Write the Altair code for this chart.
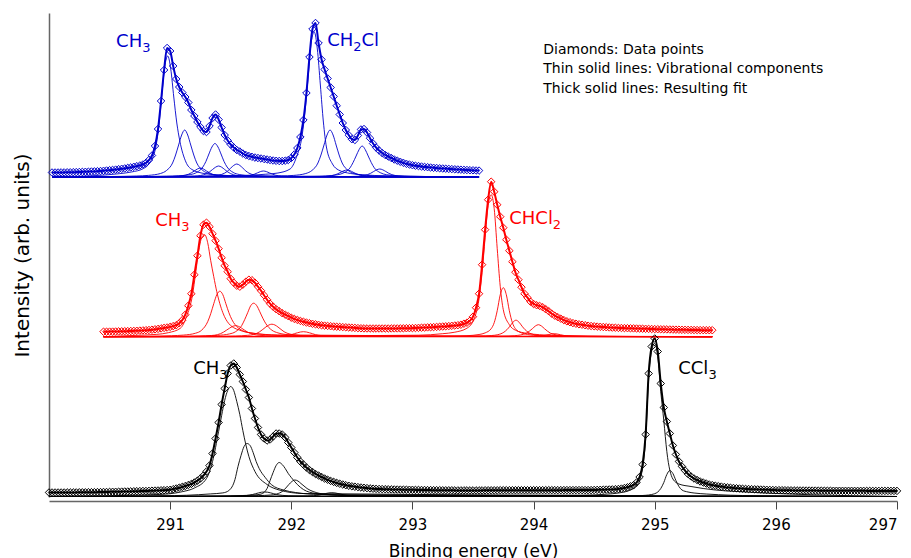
import altair as alt
import pandas as pd

STEP = 0.025  # energy step of the measured points (eV)

# ---- measured data / resulting fit: heights (arb. units) above each spectrum's baseline ----
# each entry: (first binding energy, values every STEP eV)
black_data = [
    (290.000, [4.0, 4.0, 4.0, 4.0, 4.0, 4.0, 4.1, 4.1, 4.1, 4.1, 4.2, 4.2, 4.2, 4.3, 4.3, 4.3, 4.4, 4.4, 4.5, 4.5,
               4.6, 4.7, 4.7, 4.8, 4.9, 5.0, 5.0, 5.1, 5.2, 5.3, 5.4, 5.5, 5.5, 5.6, 5.8, 5.9, 6.0, 6.2, 6.3, 6.5]),
    (291.000, [6.7, 7.3, 8.0, 8.8, 9.6, 10.5, 11.5, 12.6, 14, 15.8, 18, 21, 25, 31, 43, 58, 74, 92, 108, 123,
               131, 133, 129, 122, 115, 107, 99, 88, 78, 69, 62, 58, 56, 57, 60, 63, 63, 62, 59, 54,
               49, 44, 39, 35, 32, 29, 26.5, 24.5, 22.5, 21, 19.5, 18, 16.8, 15.6, 14.6, 13.6, 12.8, 12, 11.3, 10.7,
               10.2, 9.8, 9.4, 9.0, 8.7, 8.4, 8.1, 7.8, 7.6, 7.5]),
    (292.750, [7.4, 7.3, 7.2, 7.1, 7.0, 6.95, 6.9, 6.85, 6.8, 6.75, 6.7, 6.6, 6.6, 6.5, 6.5, 6.4, 6.4, 6.3, 6.3, 6.3,
               6.2, 6.2, 6.2, 6.2, 6.1, 6.1, 6.1, 6.1, 6.1, 6.1, 6.1, 6.1, 6.1, 6.1, 6.2, 6.2, 6.2, 6.2, 6.2, 6.3,
               6.3, 6.3, 6.3, 6.3, 6.3, 6.3, 6.3, 6.3, 6.3, 6.3, 6.35, 6.35, 6.35, 6.35, 6.35, 6.35, 6.35, 6.35, 6.35, 6.35,
               6.4, 6.4, 6.4, 6.4, 6.4, 6.4, 6.4, 6.4, 6.4, 6.4, 6.5, 6.6, 6.7, 6.8, 6.9, 7.0, 7.1, 7.3]),
    (294.700, [7.5, 7.9, 8.5, 9.2, 10.2, 11.3, 14, 19.5, 32, 62, 123, 150, 158, 145, 113, 89, 75, 63, 51, 42,
               35, 30, 26, 22.5, 20, 18, 16.5, 15, 14, 13, 12, 11.4, 10.8, 10.3, 9.9, 9.5, 9.1, 8.8, 8.5, 8.25,
               8.0, 7.8, 7.6, 7.45, 7.3, 7.2, 7.1, 6.95, 6.8, 6.7, 6.6, 6.5, 6.4, 6.35, 6.3, 6.25, 6.2, 6.15, 6.1, 6.05,
               6.0, 6.0, 5.95, 5.95, 5.9, 5.9, 5.85, 5.85, 5.8, 5.8, 5.8, 5.75, 5.75, 5.75, 5.7, 5.7, 5.7, 5.7, 5.65, 5.65,
               5.65, 5.65, 5.6, 5.6, 5.6, 5.6, 5.6, 5.6, 5.6, 5.6, 5.6, 5.6, 5.6]),
]
red_data = [
    (290.450, [5.0, 5.0, 5.1, 5.1, 5.2, 5.3, 5.4, 5.5, 5.6, 5.7, 5.8, 5.9, 6.1, 6.3, 6.5, 6.7, 7.0, 7.4, 7.8, 8.3,
               8.8, 9.2]),
    (291.000, [9.8, 10.6, 11.5, 13.5, 16.5, 22, 31, 43, 62, 81, 101, 112, 114, 110, 103, 96, 88, 79, 71, 65,
               58, 54, 51, 50, 52, 55, 57, 56.5, 54, 50, 46, 41.5, 37, 33, 30, 27.5, 25.5, 23.5, 22, 20.5,
               19, 17.8, 16.8, 15.8, 15, 14.2, 13.5, 12.9, 12.4, 11.9, 11.4, 11.1, 10.8, 10.5, 10.2, 10.0, 9.8, 9.6, 9.4, 9.2,
               9.0, 8.8, 8.6, 8.4, 8.3]),
    (292.625, [8.25, 8.2, 8.2, 8.2, 8.2, 8.2, 8.2, 8.2, 8.25, 8.3, 8.3, 8.35, 8.4, 8.5, 8.55, 8.6, 8.7, 8.85, 9.0, 9.15,
               9.3, 9.45, 9.6, 9.8, 10.0, 10.2, 10.4, 10.6, 10.9, 11.2, 11.5, 12.0, 13.0, 14.0, 16.0]),
    (293.500, [20, 29, 43, 72, 107, 137, 155, 145, 132, 120, 109, 97, 86, 75, 64.5, 57, 49.5, 43, 39, 35,
               32.7, 31.5, 30.8, 29.5, 27.5, 25.5, 23, 21, 19.5, 18, 16.6, 15.4, 14.5, 13.6, 13, 12.4, 12, 11.5, 11, 10.7,
               10.4, 10.1, 9.9, 9.7, 9.5, 9.3, 9.1, 9.0, 8.8, 8.7, 8.6, 8.5, 8.4, 8.3, 8.2, 8.1, 8.0, 7.9, 7.8, 7.7,
               7.6, 7.5, 7.4, 7.35, 7.3, 7.2, 7.1, 7.05, 7.0, 6.9, 6.85, 6.8, 6.75, 6.7, 6.65, 6.6, 6.55, 6.5, 6.5, 6.5]),
]
blue_data = [
    (290.025, [4.5, 4.5, 4.5, 4.6, 4.6, 4.7, 4.7, 4.8, 4.9, 5.0, 5.1, 5.2, 5.3, 5.5, 5.6, 5.8, 6.0, 6.2, 6.5, 6.8,
               7.1, 7.4, 7.8, 8.2, 8.6, 9.1, 9.6, 10.2, 10.8, 11.5, 12.5, 14, 17, 21.5, 31, 48, 76, 107, 129]),
    (291.000, [126, 111, 98, 90, 84.5, 80, 74.5, 67, 61, 55, 50, 46, 45, 51, 59, 62.5, 57.5, 49.5, 42, 36.5,
               32.5, 29.5, 27, 25.5, 23.5, 22, 21, 20.2, 19.5, 19, 18.5, 18, 17.5, 17, 16.5, 16.2, 16, 16, 16.3, 17]),
    (292.000, [19, 22.5, 29, 40, 57, 84, 120, 148, 154, 134, 117.5, 107.5, 98.5, 89.5, 80.5, 71.3, 62.5, 54, 47, 41.8,
               37.8, 37, 41.5, 47.5, 48, 44.5, 38.8, 33.5, 29.5, 26.5, 24, 22, 20.5, 19, 17.5, 16.3, 15.2, 14.2, 13.2, 12.5,
               11.8, 11.3, 10.9, 10.5, 10.1, 9.8, 9.5, 9.2, 9.0, 8.7, 8.5, 8.3, 8.1, 7.9, 7.7, 7.5, 7.3, 7.1, 7.0, 6.8,
               6.7, 6.5, 6.4]),
]

# ---- vibrational components: (centre eV, heights at the offsets in COMP_OFF) ----
COMP_OFF = [-0.6, -0.4, -0.3, -0.2, -0.15, -0.1, -0.075, -0.05, -0.025, 0,
            0.025, 0.05, 0.075, 0.1, 0.15, 0.2, 0.3, 0.4, 0.6]
black_comps = [
    (291.500, [2, 4.8, 8.5, 18, 35, 65, 81, 96, 106, 110, 106, 95, 82, 66, 40, 25, 12, 6.5, 3]),
    (291.635, [0.9, 1.8, 2.6, 3.6, 6, 17, 30, 41, 50, 53, 51, 44, 35, 28, 19, 12, 6.5, 4, 2]),
    (291.780, [0.1, 0.2, 0.3, 0.6, 1, 2, 2.8, 3.6, 4.3, 4.5, 4.3, 3.6, 2.8, 2, 1.1, 0.7, 0.4, 0.2, 0.1]),
    (291.900, [0.3, 0.6, 1, 1.6, 2.4, 8, 16, 24, 31, 34, 32, 28, 23, 19, 12, 7, 3, 1.8, 0.9]),
    (292.030, [0.3, 0.6, 0.9, 1.5, 2.5, 5.5, 8.5, 12, 15, 16.5, 15.5, 13, 10.5, 8, 5, 3.2, 1.7, 1, 0.5]),
    (292.335, [0.1, 0.2, 0.3, 0.5, 0.8, 1.6, 2.3, 3, 3.6, 3.8, 3.6, 3, 2.3, 1.6, 0.9, 0.6, 0.3, 0.2, 0.1]),
    (295.000, [1.3, 2.3, 3.5, 6.5, 10.5, 28, 58, 118, 146, 153, 140, 105, 76, 45, 17.5, 12.5, 10, 8, 5.5]),
    (295.125, [0.2, 0.4, 0.6, 1.2, 2, 4.5, 8, 14, 22, 26, 23, 16, 10, 6.5, 4.5, 3.5, 2.5, 1.8, 1]),
]
red_comps = [
    (291.285, [1.2, 2.3, 4, 8.5, 20, 42, 63, 85, 99, 102, 94, 76, 60, 45, 24, 13, 6, 3.5, 1.8]),
    (291.410, [0.5, 1, 1.6, 3.5, 6.5, 15, 23, 33, 42, 45.5, 42, 33, 24, 17, 9, 5.5, 3, 1.8, 0.9]),
    (291.540, [0.2, 0.4, 0.6, 1.2, 2, 4.5, 6.5, 8.5, 10.3, 11, 10.3, 8.5, 6.5, 4.5, 2.3, 1.4, 0.7, 0.4, 0.2]),
    (291.690, [0.4, 0.8, 1.3, 2.8, 5, 11, 17, 24, 31, 33.5, 31, 25, 18.5, 13, 6.5, 3.8, 1.8, 1.1, 0.6]),
    (291.840, [0.2, 0.45, 0.7, 1.4, 2.3, 5, 7.3, 9.7, 11.7, 12.5, 11.7, 9.7, 7.3, 5, 2.6, 1.6, 0.8, 0.45, 0.25]),
    (292.100, [0.1, 0.2, 0.3, 0.6, 1, 2, 3, 3.9, 4.7, 5, 4.7, 3.9, 3, 2, 1.1, 0.7, 0.35, 0.2, 0.1]),
    (293.650, [1.5, 3, 4.5, 8.5, 15.5, 38, 64, 99, 131, 142, 128, 88, 50, 27, 12, 6.5, 3.3, 2, 1]),
    (293.750, [0.3, 0.6, 1, 2.2, 3.8, 8, 14, 26, 42, 49, 42, 26, 14, 8, 3.8, 2.2, 1, 0.6, 0.3]),
    (293.855, [0.2, 0.4, 0.6, 1.2, 2, 4.5, 7, 10.5, 14.5, 16.5, 14.5, 10.5, 7, 4.5, 2, 1.2, 0.6, 0.4, 0.2]),
    (294.040, [0.2, 0.3, 0.5, 1, 1.7, 3.5, 5.5, 8, 10.7, 12, 10.7, 8, 5.5, 3.5, 1.7, 1, 0.5, 0.3, 0.2]),
    (294.170, [0.05, 0.1, 0.15, 0.3, 0.45, 0.9, 1.4, 2, 2.7, 3, 2.7, 2, 1.4, 0.9, 0.45, 0.3, 0.15, 0.1, 0.05]),
]
blue_comps = [
    (290.980, [1.4, 3.3, 5, 8.5, 14, 29, 49, 80, 110, 121, 108, 80, 54, 36, 15, 7.5, 3.5, 2.2, 1.1]),
    (291.120, [0.5, 1, 1.6, 3.5, 6.5, 14, 22, 32, 42, 47, 42, 32, 22, 14, 6.5, 3.5, 1.6, 1, 0.5]),
    (291.250, [0.1, 0.2, 0.3, 0.7, 1.3, 2.7, 4.2, 6, 8, 9, 8, 6, 4.2, 2.7, 1.3, 0.7, 0.3, 0.2, 0.1]),
    (291.370, [0.4, 0.8, 1.2, 2.5, 4.6, 10, 15.5, 23, 30, 33.5, 30, 23, 15.5, 10, 4.6, 2.5, 1.2, 0.8, 0.4]),
    (291.400, [0.1, 0.25, 0.4, 0.8, 1.5, 3.3, 5.1, 7.5, 9.8, 11, 9.8, 7.5, 5.1, 3.3, 1.5, 0.8, 0.4, 0.25, 0.1]),
    (291.550, [0.15, 0.3, 0.5, 1, 1.8, 3.9, 6, 8.9, 11.6, 13, 11.6, 8.9, 6, 3.9, 1.8, 1, 0.5, 0.3, 0.15]),
    (291.770, [0.07, 0.14, 0.2, 0.45, 0.8, 1.8, 2.8, 4.1, 5.4, 6, 5.4, 4.1, 2.8, 1.8, 0.8, 0.45, 0.2, 0.14, 0.07]),
    (292.190, [1.5, 2.8, 4, 8, 19, 42, 67, 101, 135, 145, 128, 92, 55, 30, 13, 7, 3.5, 2.2, 1.2]),
    (292.320, [0.5, 1, 1.6, 3.5, 6.5, 14, 22, 32, 42, 47, 42, 32, 22, 14, 6.5, 3.5, 1.6, 1, 0.5]),
    (292.460, [0.08, 0.16, 0.25, 0.5, 0.9, 2.1, 3.3, 4.8, 6.3, 7, 6.3, 4.8, 3.3, 2.1, 0.9, 0.5, 0.25, 0.16, 0.08]),
    (292.585, [0.35, 0.7, 1.1, 2.3, 4.3, 9.2, 14.5, 21, 27.5, 31, 27.5, 21, 14.5, 9.2, 4.3, 2.3, 1.1, 0.7, 0.35]),
    (292.730, [0.1, 0.2, 0.3, 0.6, 1.1, 2.4, 3.7, 5.5, 7.2, 8, 7.2, 5.5, 3.7, 2.4, 1.1, 0.6, 0.3, 0.2, 0.1]),
]

SERIES = ["black", "red", "blue"]
COLORS = ["#000000", "#ff0000", "#0000cc"]
OFFSETS = {"black": 0.5, "red": 160.3, "blue": 320.0}      # vertical offsets of the spectra
RANGES = {"black": (290.0, 297.0), "red": (290.45, 295.475), "blue": (290.025, 293.55)}
DATA = {"black": black_data, "red": red_data, "blue": blue_data}
COMPS = {"black": black_comps, "red": red_comps, "blue": blue_comps}

# peak labels: main text, subscript, text after subscript; energy of left edge, height of baseline
label_main = ["CH", "CCl", "CH", "CHCl", "CH", "CH"]
label_sub = ["3", "3", "3", "2", "3", "2"]
label_tail = ["", "", "", "", "", "Cl"]
label_E = [291.19, 295.194, 290.877, 293.799, 290.554, 292.296]
label_Y = [123, 123, 271, 273, 450, 451]
label_series = ["black", "black", "red", "red", "blue", "blue"]

note_lines = ["Diamonds: Data points", "Thin solid lines: Vibrational components", "Thick solid lines: Resulting fit"]
note_E = [294.08, 294.08, 294.08]
note_Y = [443, 423.7, 404.3]

x_ticks = [291, 292, 293, 294, 295, 296, 297]

# ---- layout / style ----
W, H = 848, 484
X_DOMAIN = [290, 297]
PX_PER_EV = W / (X_DOMAIN[1] - X_DOMAIN[0])
FONT = "DejaVu Sans"
LABEL_SIZE, SUB_SIZE = 18, 13
SUB_DROP = 5                        # px the subscript sits below the baseline
MAIN_W = {"CH": 26.1, "CCl": 30.2, "CHCl": 43.6}   # rendered widths (px) of the main label text
SUB_W = 8.3

# ---- build tables ----
pts = []
for s in SERIES:
    for start, vals in DATA[s]:
        for i, v in enumerate(vals):
            pts.append({"series": s, "E": round(start + STEP * i, 4), "Y": OFFSETS[s] + v})
pts = pd.DataFrame(pts)

comp_rows = []
for s in SERIES:
    lo, hi = RANGES[s]
    for k, (c, hs) in enumerate(COMPS[s]):
        cid = f"{s}{k}"
        seq = [(lo, 0.0)] + [(c + d, h) for d, h in zip(COMP_OFF, hs) if lo < c + d < hi] + [(hi, 0.0)]
        for j, (e, h) in enumerate(seq):
            comp_rows.append({"series": s, "cid": cid, "o": j, "E": e, "Y": OFFSETS[s] + h})
comps = pd.DataFrame(comp_rows)

main_rows, sub_rows = [], []
for m, sb, tl, e, y, s in zip(label_main, label_sub, label_tail, label_E, label_Y, label_series):
    main_rows.append({"text": m, "E": e, "Y": y, "series": s})
    e_sub = e + MAIN_W[m] / PX_PER_EV
    sub_rows.append({"text": sb, "E": e_sub, "Y": y, "series": s})
    if tl:
        main_rows.append({"text": tl, "E": e_sub + SUB_W / PX_PER_EV, "Y": y, "series": s})
mains = pd.DataFrame(main_rows)
subs = pd.DataFrame(sub_rows)
notes = pd.DataFrame({"text": note_lines, "E": note_E, "Y": note_Y})

xs = alt.Scale(domain=X_DOMAIN, nice=False, zero=False)
ys = alt.Scale(domain=[0, H], nice=False, zero=False)
cs = alt.Scale(domain=SERIES, range=COLORS)

x_axis = alt.Axis(values=x_ticks, format="d", title="Binding energy (eV)", grid=False,
                  domainColor="#666666", domainWidth=1.5, tickColor="#444444", tickSize=8, tickWidth=1,
                  labelFont=FONT, labelFontSize=15, labelColor="#000000", labelPadding=8,
                  titleFont=FONT, titleFontSize=17, titleFontWeight="normal", titleColor="#000000",
                  titleX=424, titleY=55, titleBaseline="alphabetic", offset=4)
y_axis = alt.Axis(title="Intensity (arb. units)", labels=False, ticks=False, grid=False,
                  domainColor="#666666", domainWidth=1.5,
                  titleFont=FONT, titleFontSize=20, titleFontWeight="normal", titleColor="#000000",
                  titleX=-27, titleY=242, titleAngle=270, titleBaseline="middle", titleAlign="center")

X = alt.X("E:Q", scale=xs, axis=x_axis)
Y = alt.Y("Y:Q", scale=ys, axis=y_axis)
C = alt.Color("series:N", scale=cs, legend=None)

comp_layer = alt.Chart(comps).mark_line(strokeWidth=0.9, interpolate="monotone").encode(
    x=X, y=Y, color=C, detail="cid:N", order="o:Q")
fit_layer = alt.Chart(pts).mark_line(strokeWidth=2, interpolate="monotone").encode(
    x=X, y=Y, color=C, detail="series:N")
pt_layer = alt.Chart(pts).mark_point(shape="diamond", filled=False, size=56, strokeWidth=1, opacity=1).encode(
    x=X, y=Y, color=C)
main_layer = alt.Chart(mains).mark_text(align="left", baseline="alphabetic", font=FONT,
                                         fontSize=LABEL_SIZE).encode(x=X, y=Y, text="text:N", color=C)
sub_layer = alt.Chart(subs).mark_text(align="left", baseline="alphabetic", font=FONT, fontSize=SUB_SIZE,
                                       dy=SUB_DROP).encode(x=X, y=Y, text="text:N", color=C)
note_layer = alt.Chart(notes).mark_text(align="left", baseline="alphabetic", font=FONT, fontSize=14,
                                        color="#000000").encode(x=X, y=Y, text="text:N")

chart = alt.layer(comp_layer, fit_layer, pt_layer, main_layer, sub_layer, note_layer).properties(
    width=W, height=H,
    autosize=alt.AutoSizeParams(type="none"),
    padding={"left": 41, "top": 5, "right": 6, "bottom": 70},
).configure_view(stroke=None)

chart.save("out.html", embed_options={"renderer": "svg", "actions": False})
